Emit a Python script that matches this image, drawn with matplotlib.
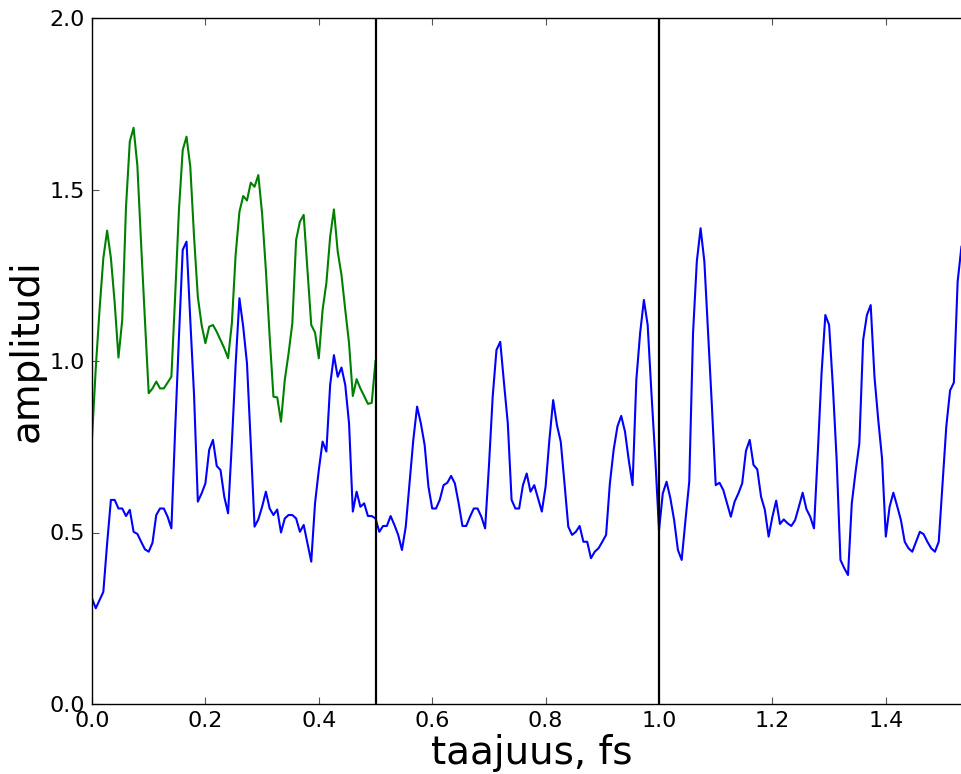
import numpy as np
import matplotlib
matplotlib.use("Agg")
import matplotlib.pyplot as plt

# frequency resolution of the spectra (fraction of fs per bin)
freq_step = 1.0 / 150.0

# amplitude spectrum over the first Nyquist band (green)
amp_band = [
    0.775, 0.98, 1.15, 1.30, 1.38, 1.30, 1.17, 1.01, 1.12, 1.45,
    1.64, 1.68, 1.57, 1.34, 1.12, 0.906, 0.920, 0.940, 0.920, 0.920,
    0.937, 0.954, 1.19, 1.44, 1.615, 1.654, 1.567, 1.362, 1.187, 1.105,
    1.052, 1.10, 1.105, 1.085, 1.061, 1.037, 1.008, 1.11, 1.31, 1.435,
    1.481, 1.468, 1.520, 1.508, 1.542, 1.430, 1.265, 1.071, 0.896, 0.894,
    0.823, 0.945, 1.022, 1.110, 1.353, 1.406, 1.426, 1.265, 1.105, 1.083,
    1.008, 1.149, 1.227, 1.362, 1.442, 1.319, 1.251, 1.149, 1.052, 0.898,
    0.947, 0.920, 0.898, 0.875, 0.878, 1.00,
]

# amplitude spectrum of the sampled signal (blue)
amp_sampled = [
    0.308, 0.279, 0.303, 0.327, 0.468, 0.595, 0.595, 0.570, 0.570, 0.548,
    0.566, 0.502, 0.496, 0.473, 0.451, 0.444, 0.470, 0.551, 0.570, 0.570,
    0.546, 0.512, 0.80, 1.07, 1.324, 1.348, 1.12, 0.90, 0.590, 0.614,
    0.643, 0.741, 0.770, 0.694, 0.682, 0.604, 0.556, 0.76, 0.99, 1.183,
    1.100, 0.993, 0.760, 0.517, 0.538, 0.575, 0.619, 0.570, 0.551, 0.567,
    0.500, 0.541, 0.551, 0.551, 0.541, 0.502, 0.522, 0.468, 0.415, 0.585,
    0.682, 0.765, 0.736, 0.930, 1.017, 0.954, 0.981, 0.930, 0.818, 0.561,
    0.619, 0.575, 0.585, 0.548, 0.548, 0.541, 0.502, 0.519, 0.519, 0.548,
    0.522, 0.493, 0.449, 0.517, 0.643, 0.770, 0.867, 0.818, 0.755, 0.634,
    0.570, 0.570, 0.595, 0.638, 0.645, 0.665, 0.643, 0.585, 0.519, 0.519,
    0.546, 0.570, 0.570, 0.546, 0.512, 0.692, 0.896, 1.032, 1.056, 0.935,
    0.818, 0.595, 0.570, 0.570, 0.638, 0.672, 0.619, 0.638, 0.600, 0.561,
    0.634, 0.770, 0.886, 0.813, 0.765, 0.643, 0.517, 0.493, 0.502, 0.519,
    0.473, 0.473, 0.425, 0.444, 0.454, 0.473, 0.493, 0.643, 0.741, 0.809,
    0.840, 0.794, 0.711, 0.638, 0.945, 1.081, 1.178, 1.105, 0.906, 0.72,
    0.507, 0.614, 0.648, 0.600, 0.536, 0.449, 0.420, 0.536, 0.648, 1.081,
    1.290, 1.387, 1.290, 1.081, 0.867, 0.638, 0.645, 0.624, 0.585, 0.546,
    0.590, 0.614, 0.643, 0.738, 0.770, 0.697, 0.684, 0.604, 0.566, 0.488,
    0.546, 0.593, 0.525, 0.538, 0.527, 0.519, 0.536, 0.575, 0.616, 0.568,
    0.546, 0.512, 0.731, 0.964, 1.134, 1.105, 0.925, 0.711, 0.420, 0.396,
    0.376, 0.585, 0.677, 0.760, 1.061, 1.134, 1.163, 0.954, 0.828, 0.716,
    0.488, 0.575, 0.616, 0.577, 0.536, 0.473, 0.454, 0.444, 0.473, 0.502,
    0.495, 0.473, 0.454, 0.444, 0.473, 0.643, 0.809, 0.914, 0.937, 1.231,
    1.333,
]

# band edges marked with vertical lines
band_edges = [0.5, 1.0]

x_ticks = [0.0, 0.2, 0.4, 0.6, 0.8, 1.0, 1.2, 1.4]
y_ticks = [0.0, 0.5, 1.0, 1.5, 2.0]

freq_band = np.arange(len(amp_band)) * freq_step
freq_sampled = np.arange(len(amp_sampled)) * freq_step

# the axes runs slightly past the right edge of the canvas
fig_w, fig_h = 962, 774
ax_left, ax_bottom, ax_w, ax_h = 92, 70, 880, 686
x_max = 1.552

fig = plt.figure(figsize=(fig_w / 100, fig_h / 100), dpi=100)
ax = fig.add_axes([ax_left / fig_w, ax_bottom / fig_h, ax_w / fig_w, ax_h / fig_h])

ax.plot(freq_sampled, amp_sampled, color="#0000ff", lw=1.5)
ax.plot(freq_band, amp_band, color="#008000", lw=1.5)
for edge in band_edges:
    ax.axvline(edge, color="black", lw=1.6)

ax.set_xlim(0, x_max)
ax.set_ylim(0, 2.0)
ax.set_xticks(x_ticks)
ax.set_yticks(y_ticks)
ax.set_xticklabels([f"{t:.1f}" for t in x_ticks])
ax.set_yticklabels([f"{t:.1f}" for t in y_ticks])

ax.spines["right"].set_visible(False)
for s in ("left", "top", "bottom"):
    ax.spines[s].set_linewidth(1.0)

ax.tick_params(direction="in", length=5, width=0.8, labelsize=16, pad=5,
               top=True, right=False)
ax.tick_params(axis="both", colors="#555555", labelcolor="black")

ax.set_xlabel("taajuus, fs", fontsize=28, labelpad=2)
ax.set_ylabel("amplitudi", fontsize=28, labelpad=3)
ax.yaxis.label.set_y(0.515)

fig.savefig("out.png", dpi=100)
